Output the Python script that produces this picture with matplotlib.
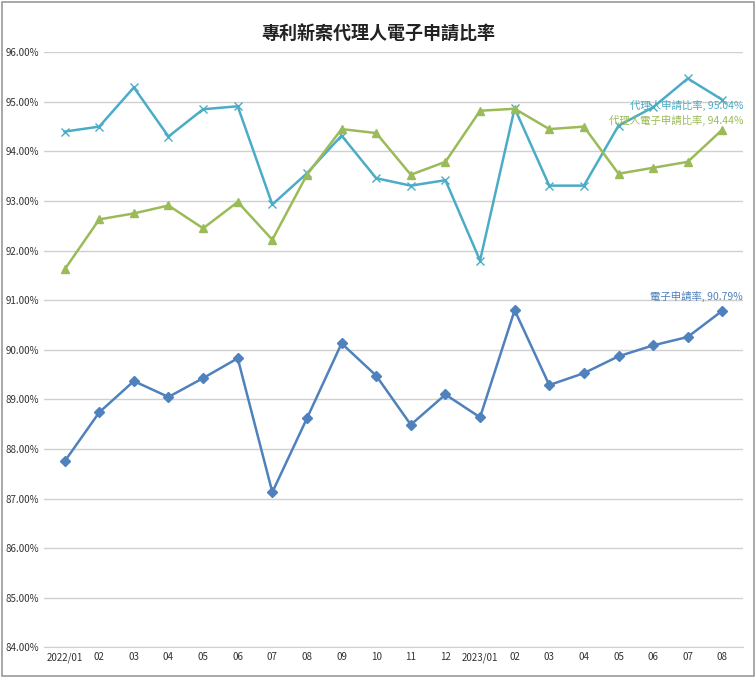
import matplotlib.pyplot as plt
from matplotlib.ticker import FuncFormatter

plt.rcParams['font.family'] = ['Noto Sans CJK TC', 'DejaVu Sans']

months = ['2022/01', '02', '03', '04', '05', '06', '07', '08', '09', '10', '11', '12',
          '2023/01', '02', '03', '04', '05', '06', '07', '08']
agent_rate = [94.40, 94.50, 95.29, 94.30, 94.85, 94.91, 92.93, 93.56, 94.32, 93.46,
              93.31, 93.42, 91.80, 94.87, 93.31, 93.31, 94.52, 94.89, 95.47, 95.04]
agent_e_rate = [91.62, 92.63, 92.75, 92.91, 92.45, 92.98, 92.22, 93.53, 94.45, 94.37,
                93.53, 93.79, 94.82, 94.86, 94.45, 94.50, 93.55, 93.67, 93.79, 94.44]
e_rate = [87.75, 88.74, 89.37, 89.05, 89.43, 89.83, 87.13, 88.62, 90.13, 89.48,
          88.49, 89.10, 88.64, 90.80, 89.29, 89.53, 89.87, 90.09, 90.26, 90.79]

C_CYAN = '#4bacc6'
C_GREEN = '#9bbb59'
C_BLUE = '#4f81bd'

fig = plt.figure(figsize=(7.56, 6.78), dpi=100)
ax = fig.add_axes([0.058, 0.045, 0.925, 0.878])
fig.patches.append(plt.Rectangle((0.003, 0.003), 0.994, 0.994, transform=fig.transFigure,
                                 fill=False, edgecolor='#999999', linewidth=1.2))

x = list(range(len(months)))
ax.plot(x, agent_rate, color=C_CYAN, marker='x', markersize=6, linewidth=1.8, label='代理人申請比率')
ax.plot(x, agent_e_rate, color=C_GREEN, marker='^', markersize=6, linewidth=1.8, label='代理人電子申請比率')
ax.plot(x, e_rate, color=C_BLUE, marker='D', markersize=5, linewidth=1.8, label='電子申請率')

ax.text(x[-1] + 0.6, 94.93, f'代理人申請比率, {agent_rate[-1]:.2f}%',
        color=C_CYAN, fontsize=7.5, ha='right', va='center')
ax.text(x[-1] + 0.6, 94.62, f'代理人電子申請比率, {agent_e_rate[-1]:.2f}%',
        color=C_GREEN, fontsize=7.5, ha='right', va='center')
ax.text(x[-1] + 0.6, e_rate[-1] + 0.28, f'電子申請率, {e_rate[-1]:.2f}%',
        color=C_BLUE, fontsize=7.5, ha='right', va='center')

ax.set_ylim(84, 96)
ax.set_yticks(range(84, 97))
ax.yaxis.set_major_formatter(FuncFormatter(lambda v, p: f'{v:.2f}%'))
ax.set_xlim(-0.6, len(months) - 0.4)
ax.set_xticks(x)
ax.set_xticklabels(months)
ax.tick_params(labelsize=7, length=0, colors='#333333')
ax.grid(axis='y', color='#d0d0d0', linewidth=1)
for side in ['top', 'right', 'left']:
    ax.spines[side].set_visible(False)
ax.spines['bottom'].set_color('#d0d0d0')

fig.suptitle('專利新案代理人電子申請比率', y=0.965, fontsize=13, fontweight='bold', color='#222222')
fig.savefig('out.png', dpi=100)
